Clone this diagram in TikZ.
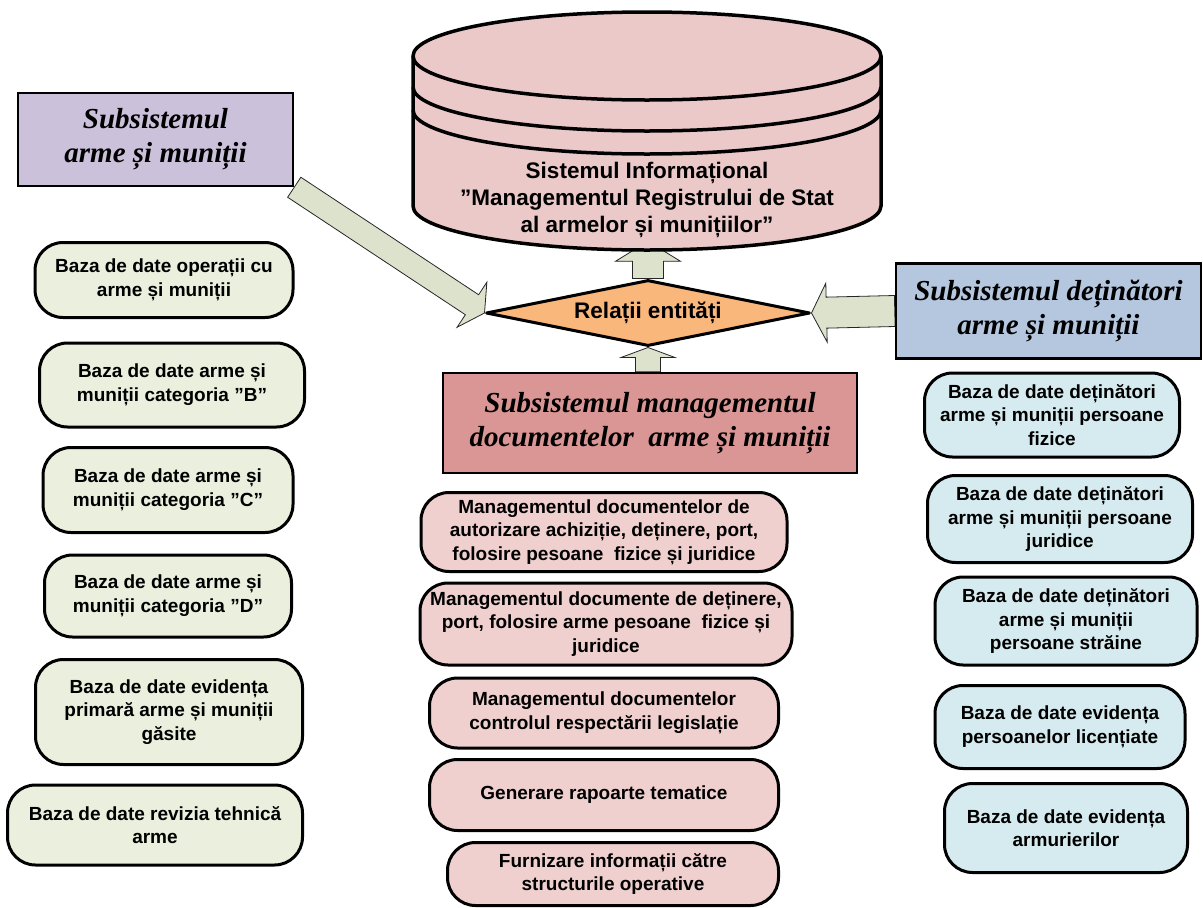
\documentclass[tikz,border=0pt]{standalone}
\usepackage{fontspec}
\setmainfont{Liberation Sans}
\newfontfamily\titlefont{Liberation Serif}
\usetikzlibrary{shapes.geometric,calc,backgrounds}
\definecolor{leftgreen}{HTML}{EBF0DE}
\definecolor{midpink}{HTML}{EFD0CF}
\definecolor{rightblue}{HTML}{D6EBF0}
\definecolor{lilac}{HTML}{CCC1DA}
\definecolor{steel}{HTML}{B5C6DF}
\definecolor{rose}{HTML}{DA9694}
\definecolor{dbpink}{HTML}{EBC9C9}
\definecolor{relorange}{HTML}{F9B77C}
\definecolor{arrowgreen}{HTML}{DDE2CC}

\begin{document}
\begin{tikzpicture}[x=1pt,y=-1pt,
  box/.style={draw, line width=3pt, rounded corners=28pt, align=center, inner sep=0pt,
    font=\fontsize{19}{23.5}\selectfont\bfseries},
  subsys/.style={draw, line width=2.5pt, align=center, inner sep=0pt,
    font=\titlefont\bfseries\itshape\fontsize{29}{34}\selectfont},
  blockarr/.style={fill=arrowgreen, draw=black!85, line width=0.8pt}]
\useasboundingbox (0,0) rectangle (1203,908);

% subsystems
\node[subsys, fill=lilac, minimum width=275pt, minimum height=93pt] (sam) at (155.5,139.5) {Subsistemul\\arme și muniții};
\node[subsys, fill=steel, minimum width=305pt, minimum height=95pt] (sdet) at (1048.5,311) {Subsistemul deținători\\arme și muniții};
\node[subsys, fill=rose, minimum width=414pt, minimum height=100pt] (mgmt) at (650,423) {Subsistemul managementul\\documentelor~ arme și muniții};

\node[diamond, draw, line width=3pt, line join=round, fill=relorange, aspect=4.8, inner sep=0pt,
  minimum width=324pt, minimum height=66pt, font=\fontsize{22.5}{27}\selectfont\bfseries] (rel) at (648,313) {Relații entități};

% database
\draw[line width=3.5pt, fill=dbpink] (413,56) -- (413,206) arc[start angle=180, end angle=360, x radius=234pt, y radius=44pt]
  -- (881,56) arc[start angle=0, end angle=180, x radius=234pt, y radius=44pt] -- cycle;
\foreach \y in {56,87,110}
  \draw[line width=3.5pt] (413,\y) arc[start angle=180, end angle=360, x radius=234pt, y radius=44pt];
\node[align=center, font=\fontsize{22.5}{27}\selectfont\bfseries] (db) at (647,200)
  {Sistemul Informațional\\”Managementul Registrului de Stat\\al armelor și munițiilor”};

% left column
\foreach \n/\x/\y/\w/\h/\t in {
  l1/164/280/258/75/{Baza de date operații cu\\arme și muniții},
  l2/172/385/265/84/{Baza de date arme și\\muniții categoria ”B”},
  l3/168/490/250/85/{Baza de date arme și\\muniții categoria ”C”},
  l4/168/596/247/82/{Baza de date arme și\\muniții categoria ”D”},
  l5/169/712/267/105/{Baza de date evidența\\primară arme și muniții\\găsite},
  l6/155/825/295/80/{Baza de date revizia tehnică\\arme}}
  \node[box, fill=leftgreen, minimum width=\w pt, minimum height=\h pt] (\n) at (\x,\y) {\t};

% middle column
\foreach \n/\x/\y/\w/\h/\t in {
  m1/604/532/366/79/{Managementul documentelor de\\autorizare achiziție, deținere, port,\\folosire pesoane~ fizice și juridice},
  m2/606/624/372/82/{Managementul documente de deținere,\\port, folosire arme pesoane~ fizice și\\juridice},
  m3/604/713/349/70/{Managementul documentelor\\controlul respectării legislație},
  m4/604/795/349/71/{Generare rapoarte tematice},
  m5/613/874/331/63/{Furnizare informații către\\structurile operative}}
  \node[box, fill=midpink, minimum width=\w pt, minimum height=\h pt] (\n) at (\x,\y) {\t};

% right column
\foreach \n/\x/\y/\w/\h/\t in {
  r1/1052/415/255/84/{Baza de date deținători\\arme și muniții persoane\\fizice},
  r2/1060/519/265/87/{Baza de date deținători\\arme și muniții persoane\\juridice},
  r3/1066/621/262/88/{Baza de date deținători\\arme și muniții\\persoane străine},
  r4/1060/727/250/83/{Baza de date evidența\\persoanelor licențiate},
  r5/1066/828/243/89/{Baza de date evidența\\armurierilor}}
  \node[box, fill=rightblue, minimum width=\w pt, minimum height=\h pt] (\n) at (\x,\y) {\t};

% block arrows
\begin{scope}[on background layer]
\coordinate (dbin) at (rel.north |- db.south);
\coordinate (mgmtin) at (rel.south |- mgmt.north);
\foreach \a/\b/\s/\h/\l in {sam.south east/rel.west/12/27/15, sdet.west/rel.east/15.5/29.5/15,
    rel.north/dbin/15.5/32.5/20, mgmtin/rel.south/12.5/27/10} {
  \coordinate (hb) at ($(\b)!\l pt!(\a)$);
  \draw[blockarr] ($(\a)!\s pt!90:(\b)$) -- ($(hb)!\s pt!90:(\b)$) -- ($(hb)!\h pt!90:(\b)$) -- (\b)
    -- ($(hb)!\h pt!-90:(\b)$) -- ($(hb)!\s pt!-90:(\b)$) -- ($(\a)!\s pt!-90:(\b)$) -- cycle;
}
\end{scope}
\end{tikzpicture}
\end{document}
